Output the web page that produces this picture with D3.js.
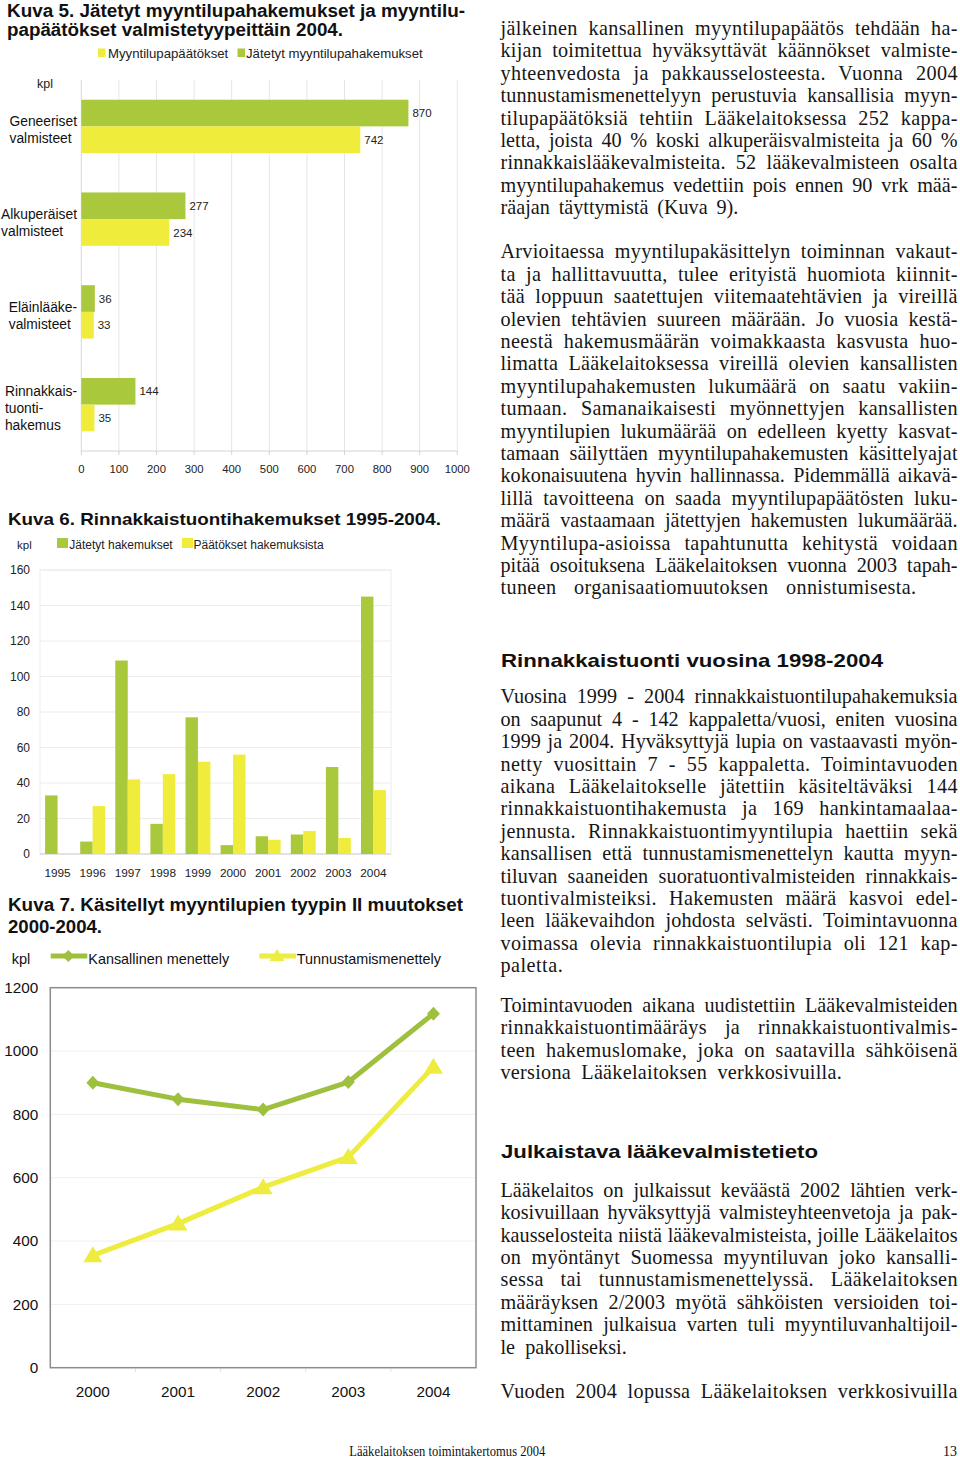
<!DOCTYPE html>
<html><head><meta charset="utf-8">
<script src="https://cdn.jsdelivr.net/npm/d3@7"></script>
<style>
html,body{margin:0;padding:0;background:#fff;}
svg{display:block;}
</style></head>
<body>
<script>
// ---------- DATA ----------
// Kuva 5
const cats5 = [["Geneeriset","valmisteet"],["Alkuperäiset","valmisteet"],["Eläinlääke-","valmisteet"],["Rinnakkais-","tuonti-","hakemus"]];
const filed5 = [870, 277, 36, 144];
const decisions5 = [742, 234, 33, 35];
const ticks5 = [0,100,200,300,400,500,600,700,800,900,1000];
const legend5 = ["Myyntilupapäätökset","Jätetyt myyntilupahakemukset"];
// Kuva 6
const years6 = ["1995","1996","1997","1998","1999","2000","2001","2002","2003","2004"];
const filed6 = [33, 7, 109, 17, 77, 5, 10, 11, 49, 145];
const decisions6 = [0, 27, 42, 45, 52, 56, 8, 13, 9, 36];
const ticks6 = [0,20,40,60,80,100,120,140,160];
const legend6 = ["Jätetyt hakemukset","Päätökset hakemuksista"];
// Kuva 7
const years7 = ["2000","2001","2002","2003","2004"];
const national7 = [900, 848, 815, 902, 1118];
const mutual7 = [355, 455, 570, 665, 950];
const ticks7 = [0,200,400,600,800,1000,1200];
const legend7 = ["Kansallinen menettely","Tunnustamismenettely"];

// ---------- TEXT COLUMN ----------
const para1 = ["jälkeinen kansallinen myyntilupapäätös tehdään ha-","kijan toimitettua hyväksyttävät käännökset valmiste-","yhteenvedosta ja pakkausselosteesta. Vuonna 2004","tunnustamismenettelyyn perustuvia kansallisia myyn-","tilupapäätöksiä tehtiin Lääkelaitoksessa 252 kappa-","letta, joista 40 % koski alkuperäisvalmisteita ja 60 %","rinnakkaislääkevalmisteita. 52 lääkevalmisteen osalta","myyntilupahakemus vedettiin pois ennen 90 vrk mää-","räajan täyttymistä (Kuva 9)."];
const para2 = ["Arvioitaessa myyntilupakäsittelyn toiminnan vakaut-","ta ja hallittavuutta, tulee erityistä huomiota kiinnit-","tää loppuun saatettujen viitemaatehtävien ja vireillä","olevien tehtävien suureen määrään. Jo vuosia kestä-","neestä hakemusmäärän voimakkaasta kasvusta huo-","limatta Lääkelaitoksessa vireillä olevien kansallisten","myyntilupahakemusten lukumäärä on saatu vakiin-","tumaan. Samanaikaisesti myönnettyjen kansallisten","myyntilupien lukumäärää on edelleen kyetty kasvat-","tamaan säilyttäen myyntilupahakemusten käsittelyajat","kokonaisuutena hyvin hallinnassa. Pidemmällä aikavä-","lillä tavoitteena on saada myyntilupapäätösten luku-","määrä vastaamaan jätettyjen hakemusten lukumäärää.","Myyntilupa-asioissa tapahtunutta kehitystä voidaan","pitää osoituksena Lääkelaitoksen vuonna 2003 tapah-","tuneen organisaatiomuutoksen onnistumisesta."];
const heading1 = "Rinnakkaistuonti vuosina 1998-2004";
const para3 = ["Vuosina 1999 - 2004 rinnakkaistuontilupahakemuksia","on saapunut 4 - 142 kappaletta/vuosi, eniten vuosina","1999 ja 2004. Hyväksyttyjä lupia on vastaavasti myön-","netty vuosittain 7 - 55 kappaletta. Toimintavuoden","aikana Lääkelaitokselle jätettiin käsiteltäväksi 144","rinnakkaistuontihakemusta ja 169 hankintamaalaa-","jennusta. Rinnakkaistuontimyyntilupia haettiin sekä","kansallisen että tunnustamismenettelyn kautta myyn-","tiluvan saaneiden suoratuontivalmisteiden rinnakkais-","tuontivalmisteiksi. Hakemusten määrä kasvoi edel-","leen lääkevaihdon johdosta selvästi. Toimintavuonna","voimassa olevia rinnakkaistuontilupia oli 121 kap-","paletta."];
const para4 = ["Toimintavuoden aikana uudistettiin Lääkevalmisteiden","rinnakkaistuontimääräys ja rinnakkaistuontivalmis-","teen hakemuslomake, joka on saatavilla sähköisenä","versiona Lääkelaitoksen verkkosivuilla."];
const heading2 = "Julkaistava lääkevalmistetieto";
const para5 = ["Lääkelaitos on julkaissut keväästä 2002 lähtien verk-","kosivuillaan hyväksyttyjä valmisteyhteenvetoja ja pak-","kausselosteita niistä lääkevalmisteista, joille Lääkelaitos","on myöntänyt Suomessa myyntiluvan joko kansalli-","sessa tai tunnustamismenettelyssä. Lääkelaitoksen","määräyksen 2/2003 myötä sähköisten versioiden toi-","mittaminen julkaisua varten tuli myyntiluvanhaltijoil-","le pakolliseksi."];
const para6 = ["Vuoden 2004 lopussa Lääkelaitoksen verkkosivuilla"];

// ---------- STYLE ----------
const GREEN = "#a9c83c", YELLOW = "#efec3b";
const LGREEN = "#9fc03e", LYELLOW = "#eeec3f";
const SANS = "'Liberation Sans', Arial, sans-serif";
const SERIF = "'Liberation Serif', 'Times New Roman', serif";

const svg = d3.select("body").append("svg").attr("width",960).attr("height",1461);

function fit(sel, target){
  const node = sel.node();
  const w = node.getComputedTextLength();
  const str = sel.text();
  const spaces = (str.match(/ /g)||[]).length;
  const diff = target - w;
  if (diff < 0.3) return;
  if (spaces>0){
    const chars = str.length;
    let ws = diff/spaces, ls = 0;
    if (ws > 5){
      ls = Math.min(0.35, (diff - spaces*5)/(chars-1));
      ws = (diff - ls*(chars-1))/spaces;
    }
    sel.attr("letter-spacing", ls).attr("word-spacing", ws);
  } else {
    sel.attr("letter-spacing", diff/Math.max(1,str.length-1));
  }
}
function title(x, y, str, width, size){
  const t = svg.append("text").attr("x",x).attr("y",y).attr("font-family",SANS)
    .attr("font-weight","bold").attr("font-size",size).attr("fill","#111").text(str);
  t.attr("textLength",width).attr("lengthAdjust","spacingAndGlyphs");
  return t;
}

// ================= KUVA 5 =================
title(7, 17.3, "Kuva 5. Jätetyt myyntilupahakemukset ja myyntilu-", 458, 17.5);
title(7, 36, "papäätökset valmistetyypeittäin 2004.", 336, 17.5);

const g5 = svg.append("g");
const x5 = d3.scaleLinear().domain([0,1000]).range([81.3,457.3]);
const y5 = d3.scaleBand().domain(d3.range(cats5.length)).range([80,451]).paddingInner(0.425).paddingOuter(0.2125);
const sub5 = d3.scaleBand().domain(["filed","dec"]).range([0,y5.bandwidth()]);

g5.selectAll("line.grid").data(ticks5).join("line")
  .attr("x1",d=>x5(d)).attr("x2",d=>x5(d)).attr("y1",80).attr("y2",451)
  .attr("stroke",d=>d===0?"#d8d8d8":"#e6e6e6").attr("stroke-width",1);
g5.append("line").attr("x1",x5(0)).attr("x2",x5(1000)).attr("y1",451).attr("y2",451).attr("stroke","#d4d4d4");
g5.selectAll("line.tk").data(ticks5).join("line")
  .attr("x1",d=>x5(d)).attr("x2",d=>x5(d)).attr("y1",451).attr("y2",455).attr("stroke","#d4d4d4");
g5.selectAll("text.tl").data(ticks5).join("text")
  .attr("x",d=>x5(d)).attr("y",472.7).attr("text-anchor","middle")
  .attr("font-family",SANS).attr("font-size",11.3).attr("fill","#222").text(d=>d);

const rows5 = cats5.map((c,i)=>({i, filed:filed5[i], dec:decisions5[i]}));
g5.selectAll("rect.f").data(rows5).join("rect")
  .attr("x",x5(0)).attr("y",d=>y5(d.i)+sub5("filed")).attr("height",sub5.bandwidth())
  .attr("width",d=>x5(d.filed)-x5(0)).attr("fill",GREEN);
g5.selectAll("rect.d").data(rows5).join("rect")
  .attr("x",x5(0)).attr("y",d=>y5(d.i)+sub5("dec")).attr("height",sub5.bandwidth())
  .attr("width",d=>x5(d.dec)-x5(0)).attr("fill",YELLOW);
g5.selectAll("text.vf").data(rows5).join("text")
  .attr("x",d=>x5(d.filed)+4).attr("y",d=>y5(d.i)+sub5("filed")+sub5.bandwidth()/2+4.2)
  .attr("font-family",SANS).attr("font-size",11.5).attr("fill","#222").text(d=>d.filed);
g5.selectAll("text.vd").data(rows5).join("text")
  .attr("x",d=>x5(d.dec)+4).attr("y",d=>y5(d.i)+sub5("dec")+sub5.bandwidth()/2+4.2)
  .attr("font-family",SANS).attr("font-size",11.5).attr("fill","#222").text(d=>d.dec);

cats5.forEach((lines,i)=>{
  const c = y5(i)+y5.bandwidth()/2;
  const lh = 17.2;
  const mean = c + 8.5;
  const y0 = mean - (lines.length-1)*lh/2;
  const grp = g5.append("g");
  const ts = lines.map((l,k)=>grp.append("text").attr("y",y0+k*lh).attr("font-family",SANS)
      .attr("font-size",13.8).attr("fill","#111").text(l));
  const maxW = d3.max(ts,t=>t.node().getComputedTextLength());
  const left = Math.max(1, 77 - maxW);
  ts.forEach(t=>t.attr("x",left));
});
g5.append("text").attr("x",37).attr("y",88).attr("font-family",SANS).attr("font-size",12.5).attr("fill","#222").text("kpl");

g5.append("rect").attr("x",98).attr("y",48.5).attr("width",7.5).attr("height",8.5).attr("fill",YELLOW);
g5.append("text").attr("x",108).attr("y",57.5).attr("font-family",SANS).attr("font-size",13.2).attr("fill","#222").text(legend5[0]);
g5.append("rect").attr("x",237.5).attr("y",48.5).attr("width",7.5).attr("height",8.5).attr("fill",GREEN);
g5.append("text").attr("x",246).attr("y",57.5).attr("font-family",SANS).attr("font-size",13.2).attr("fill","#222").text(legend5[1]);

// ================= KUVA 6 =================
title(8, 525, "Kuva 6. Rinnakkaistuontihakemukset 1995-2004.", 433, 17);
const g6 = svg.append("g");
const x6 = d3.scaleBand().domain(years6).range([40,391]).paddingInner(0.29).paddingOuter(0.145);
const sub6 = d3.scaleBand().domain(["filed","dec"]).range([0,x6.bandwidth()]);
const y6 = d3.scaleLinear().domain([0,160]).range([854,570]);

g6.append("rect").attr("x",40).attr("y",y6(160)).attr("width",351).attr("height",y6(0)-y6(160))
  .attr("fill","none").attr("stroke","#ececec");
g6.selectAll("line.grid").data(ticks6).join("line")
  .attr("x1",40).attr("x2",391).attr("y1",d=>y6(d)).attr("y2",d=>y6(d))
  .attr("stroke",d=>d===0?"#cfcfcf":"#ececec");
g6.selectAll("text.yl").data(ticks6).join("text")
  .attr("x",30).attr("y",d=>y6(d)+4.2).attr("text-anchor","end")
  .attr("font-family",SANS).attr("font-size",12).attr("fill","#222").text(d=>d);
g6.selectAll("text.xl").data(years6).join("text")
  .attr("x",d=>x6(d)+x6.bandwidth()/2).attr("y",877.3).attr("text-anchor","middle")
  .attr("font-family",SANS).attr("font-size",11.8).attr("fill","#222").text(d=>d);

const rows6 = years6.map((y,i)=>({y, filed:filed6[i], dec:decisions6[i]}));
g6.selectAll("rect.f").data(rows6).join("rect")
  .attr("x",d=>x6(d.y)+sub6("filed")).attr("width",sub6.bandwidth())
  .attr("y",d=>y6(d.filed)).attr("height",d=>y6(0)-y6(d.filed)).attr("fill",GREEN);
g6.selectAll("rect.d").data(rows6).join("rect")
  .attr("x",d=>x6(d.y)+sub6("dec")).attr("width",sub6.bandwidth())
  .attr("y",d=>y6(d.dec)).attr("height",d=>y6(0)-y6(d.dec)).attr("fill",YELLOW);

g6.append("text").attr("x",17).attr("y",549.3).attr("font-family",SANS).attr("font-size",11.5).attr("fill","#222").text("kpl");
g6.append("rect").attr("x",57).attr("y",538).attr("width",11).attr("height",10).attr("fill",GREEN);
g6.append("text").attr("x",69.3).attr("y",549.3).attr("font-family",SANS).attr("font-size",12).attr("fill","#222").text(legend6[0]);
g6.append("rect").attr("x",182).attr("y",538).attr("width",11).attr("height",10).attr("fill",YELLOW);
g6.append("text").attr("x",193.5).attr("y",549.3).attr("font-family",SANS).attr("font-size",12).attr("fill","#222").text(legend6[1]);

// ================= KUVA 7 =================
title(8, 910.7, "Kuva 7. Käsitellyt myyntilupien tyypin II muutokset", 455, 17.5);
title(8, 932.7, "2000-2004.", 94, 17.5);
const g7 = svg.append("g");
const x7 = d3.scaleBand().domain(years7).range([50.3,476]);
const y7 = d3.scaleLinear().domain([0,1200]).range([1367.7,987.7]);

g7.selectAll("line.grid").data(ticks7.filter(d=>d>0&&d<1200)).join("line")
  .attr("x1",50.3).attr("x2",476).attr("y1",d=>y7(d)).attr("y2",d=>y7(d)).attr("stroke","#efefef");
g7.selectAll("line.tk").data(years7.slice(1)).join("line")
  .attr("x1",d=>x7(d)).attr("x2",d=>x7(d)).attr("y1",1368.5).attr("y2",1372).attr("stroke","#e2e2e2");
g7.append("rect").attr("x",50.3).attr("y",987.7).attr("width",425.7).attr("height",380)
  .attr("fill","none").attr("stroke","#8c8c8c").attr("stroke-width",1.5);
g7.selectAll("text.yl").data(ticks7).join("text")
  .attr("x",38.3).attr("y",d=>y7(d)+5.3).attr("text-anchor","end")
  .attr("font-family",SANS).attr("font-size",15.3).attr("fill","#111").text(d=>d);
g7.selectAll("text.xl").data(years7).join("text")
  .attr("x",d=>x7(d)+x7.bandwidth()/2).attr("y",1396.7).attr("text-anchor","middle")
  .attr("font-family",SANS).attr("font-size",15.3).attr("fill","#111").text(d=>d);

const cx7 = d=>x7(d)+x7.bandwidth()/2;
const line7 = d3.line().x(d=>cx7(d.y)).y(d=>y7(d.v));
const natRows = years7.map((y,i)=>({y, v:national7[i]}));
const mutRows = years7.map((y,i)=>({y, v:mutual7[i]}));
const diamond = "M0,-7L6.5,0L0,7L-6.5,0Z";
const tri = "M0,-9L9.5,7L-9.5,7Z";

g7.append("path").datum(mutRows).attr("d",line7).attr("fill","none").attr("stroke",LYELLOW).attr("stroke-width",5).attr("stroke-linejoin","round");
g7.selectAll("path.tri").data(mutRows).join("path").attr("d",tri)
  .attr("transform",d=>`translate(${cx7(d.y)},${y7(d.v)})`).attr("fill",LYELLOW);
g7.append("path").datum(natRows).attr("d",line7).attr("fill","none").attr("stroke",LGREEN).attr("stroke-width",5).attr("stroke-linejoin","round");
g7.selectAll("path.dia").data(natRows).join("path").attr("d",diamond)
  .attr("transform",d=>`translate(${cx7(d.y)},${y7(d.v)})`).attr("fill",LGREEN);

g7.append("text").attr("x",11.7).attr("y",964).attr("font-family",SANS).attr("font-size",14.6).attr("fill","#111").text("kpl");
g7.append("line").attr("x1",50.7).attr("x2",87.3).attr("y1",956).attr("y2",956).attr("stroke",LGREEN).attr("stroke-width",5);
g7.append("path").attr("d","M0,-6L6,0L0,6L-6,0Z").attr("transform","translate(68.3,956)").attr("fill",LGREEN);
g7.append("text").attr("x",88.3).attr("y",963.5).attr("font-family",SANS).attr("font-size",14.4).attr("fill","#111").text(legend7[0]);
g7.append("line").attr("x1",259.3).attr("x2",296).attr("y1",956).attr("y2",956).attr("stroke",LYELLOW).attr("stroke-width",5);
g7.append("path").attr("d","M0,-7L7.5,5L-7.5,5Z").attr("transform","translate(277,956)").attr("fill",LYELLOW);
g7.append("text").attr("x",296.7).attr("y",963.5).attr("font-family",SANS).attr("font-size",14.4).attr("fill","#111").text(legend7[1]);

// ================= TEXT COLUMN =================
const TX = 500.5, TR = 957.5, LH = 22.4;
const probe = svg.append("text").attr("font-family",SERIF).attr("font-size",100);
const natW = s => { probe.text(s); return probe.node().getComputedTextLength()/100; };
const lastLines = [[para1[para1.length-1],738.3],[para2[para2.length-1],916],[para4[para4.length-1],841.7],[para5[para5.length-1],626.7]];
const calib = d3.mean(lastLines.map(([s,e])=>(e-TX)/natW(s)));
// never let a justified line's natural width exceed the column
const allFull = [para1,para2,para3,para4,para5].flatMap(p=>p.slice(0,-1)).concat(para6);
const maxFit = d3.min(allFull.map(s=>(TR-TX)/natW(s))) * 0.995;
const FS = Math.max(16, Math.min(calib, maxFit));
probe.remove();

function paragraph(lines, y0, lastEnd){
  lines.forEach((l,k)=>{
    const isLast = k===lines.length-1;
    const t = svg.append("text").attr("x",TX).attr("y",y0+k*LH)
      .attr("font-family",SERIF).attr("font-size",FS).attr("fill","#161616").text(l);
    const target = isLast ? Math.min(lastEnd, TR) - TX : (TR - TX);
    fit(t, target);
  });
}
paragraph(para1, 35, 738.3);
paragraph(para2, 258.3, 916);
svg.append("text").attr("x",501).attr("y",666.7).attr("font-family",SANS).attr("font-weight","bold")
  .attr("font-size",19).attr("fill","#111").text(heading1).attr("textLength",382).attr("lengthAdjust","spacingAndGlyphs");
paragraph(para3, 703.3, 562.7);
paragraph(para4, 1011.7, 841.7);
svg.append("text").attr("x",501).attr("y",1158.3).attr("font-family",SANS).attr("font-weight","bold")
  .attr("font-size",19).attr("fill","#111").text(heading2).attr("textLength",317).attr("lengthAdjust","spacingAndGlyphs");
paragraph(para5, 1196.7, 626.7);
paragraph(para6, 1398.3, 957.5);

svg.append("text").attr("x",349.3).attr("y",1455.7).attr("font-family",SERIF).attr("font-size",14)
  .attr("fill","#111").text("Lääkelaitoksen toimintakertomus 2004").attr("textLength",196).attr("lengthAdjust","spacingAndGlyphs");
svg.append("text").attr("x",957).attr("y",1455.7).attr("text-anchor","end").attr("font-family",SERIF).attr("font-size",14)
  .attr("fill","#111").text("13");
</script>
</body></html>
